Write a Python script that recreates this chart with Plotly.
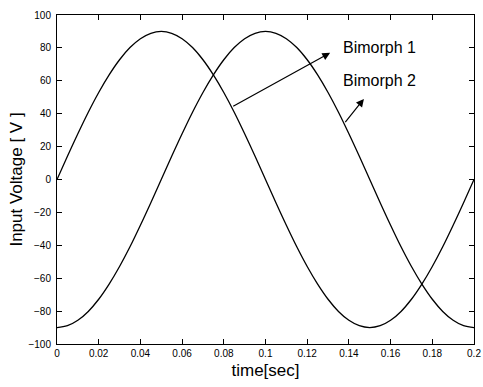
import plotly.graph_objects as go

time_sec = [round(i * 0.005, 3) for i in range(41)]
bimorph1 = [0, 14.1, 27.8, 40.9, 52.9, 63.6, 72.8, 80.2, 85.6, 88.9, 90, 88.9, 85.6, 80.2, 72.8, 63.6, 52.9, 40.9, 27.8, 14.1,
            0, -14.1, -27.8, -40.9, -52.9, -63.6, -72.8, -80.2, -85.6, -88.9, -90, -88.9, -85.6, -80.2, -72.8, -63.6, -52.9, -40.9, -27.8, -14.1, 0]
bimorph2 = [-90, -88.9, -85.6, -80.2, -72.8, -63.6, -52.9, -40.9, -27.8, -14.1, 0, 14.1, 27.8, 40.9, 52.9, 63.6, 72.8, 80.2, 85.6, 88.9,
            90, 88.9, 85.6, 80.2, 72.8, 63.6, 52.9, 40.9, 27.8, 14.1, 0, -14.1, -27.8, -40.9, -52.9, -63.6, -72.8, -80.2, -85.6, -88.9, -90]

x_tickvals = [0, 0.02, 0.04, 0.06, 0.08, 0.1, 0.12, 0.14, 0.16, 0.18, 0.2]
x_ticktext = ["0", "0.02", "0.04", "0.06", "0.08", "0.1", "0.12", "0.14", "0.16", "0.18", "0.2"]
y_tickvals = [-100, -80, -60, -40, -20, 0, 20, 40, 60, 80, 100]

labels = ["Bimorph 1", "Bimorph 2"]
# arrow tail (on curve) and head positions, in data units
arrow_tail = [(0.0838, 44), (0.1377, 34)]
arrow_head = [(0.131, 77), (0.1472, 49)]
label_pos = [(0.136, 80), (0.136, 60)]

FONT = "Liberation Sans, Arial, sans-serif"

fig = go.Figure()
for name, ys in zip(labels, [bimorph1, bimorph2]):
    fig.add_trace(go.Scatter(x=time_sec, y=ys, mode="lines", name=name,
                             line=dict(color="black", width=1.3, shape="spline", smoothing=1.0),
                             showlegend=False))

for (tx, ty), (hx, hy) in zip(arrow_tail, arrow_head):
    fig.add_annotation(x=hx, y=hy, ax=tx, ay=ty, xref="x", yref="y", axref="x", ayref="y",
                       showarrow=True, arrowhead=2, arrowsize=1.3, arrowwidth=1.2,
                       arrowcolor="black", text="")

for lab, (lx, ly) in zip(labels, label_pos):
    fig.add_annotation(x=lx, y=ly, xref="x", yref="y", text=lab, showarrow=False,
                       xanchor="left", yanchor="middle",
                       font=dict(family=FONT, size=16, color="black"))

axis_common = dict(showline=True, linecolor="black", linewidth=1, mirror="ticks",
                   ticks="inside", ticklen=5, tickcolor="black", showgrid=False,
                   zeroline=False, automargin=False,
                   tickfont=dict(family=FONT, size=10, color="black"))

fig.update_xaxes(range=[0, 0.2], tickvals=x_tickvals, ticktext=x_ticktext,
                 title=dict(text="time[sec]", font=dict(family=FONT, size=17, color="black"), standoff=6),
                 **axis_common)
fig.update_yaxes(range=[-100, 100], tickvals=y_tickvals, ticklabelstandoff=3,
                 title=dict(text="Input Voltage [ V ]", font=dict(family=FONT, size=17, color="black"), standoff=1),
                 **axis_common)

fig.update_layout(width=483, height=387, margin=dict(l=57, r=9, t=15, b=43),
                  paper_bgcolor="white", plot_bgcolor="white")

fig.write_html("out.html", config={"displayModeBar": False},
               post_script="document.body.style.margin='0';document.body.style.overflow='hidden';")
